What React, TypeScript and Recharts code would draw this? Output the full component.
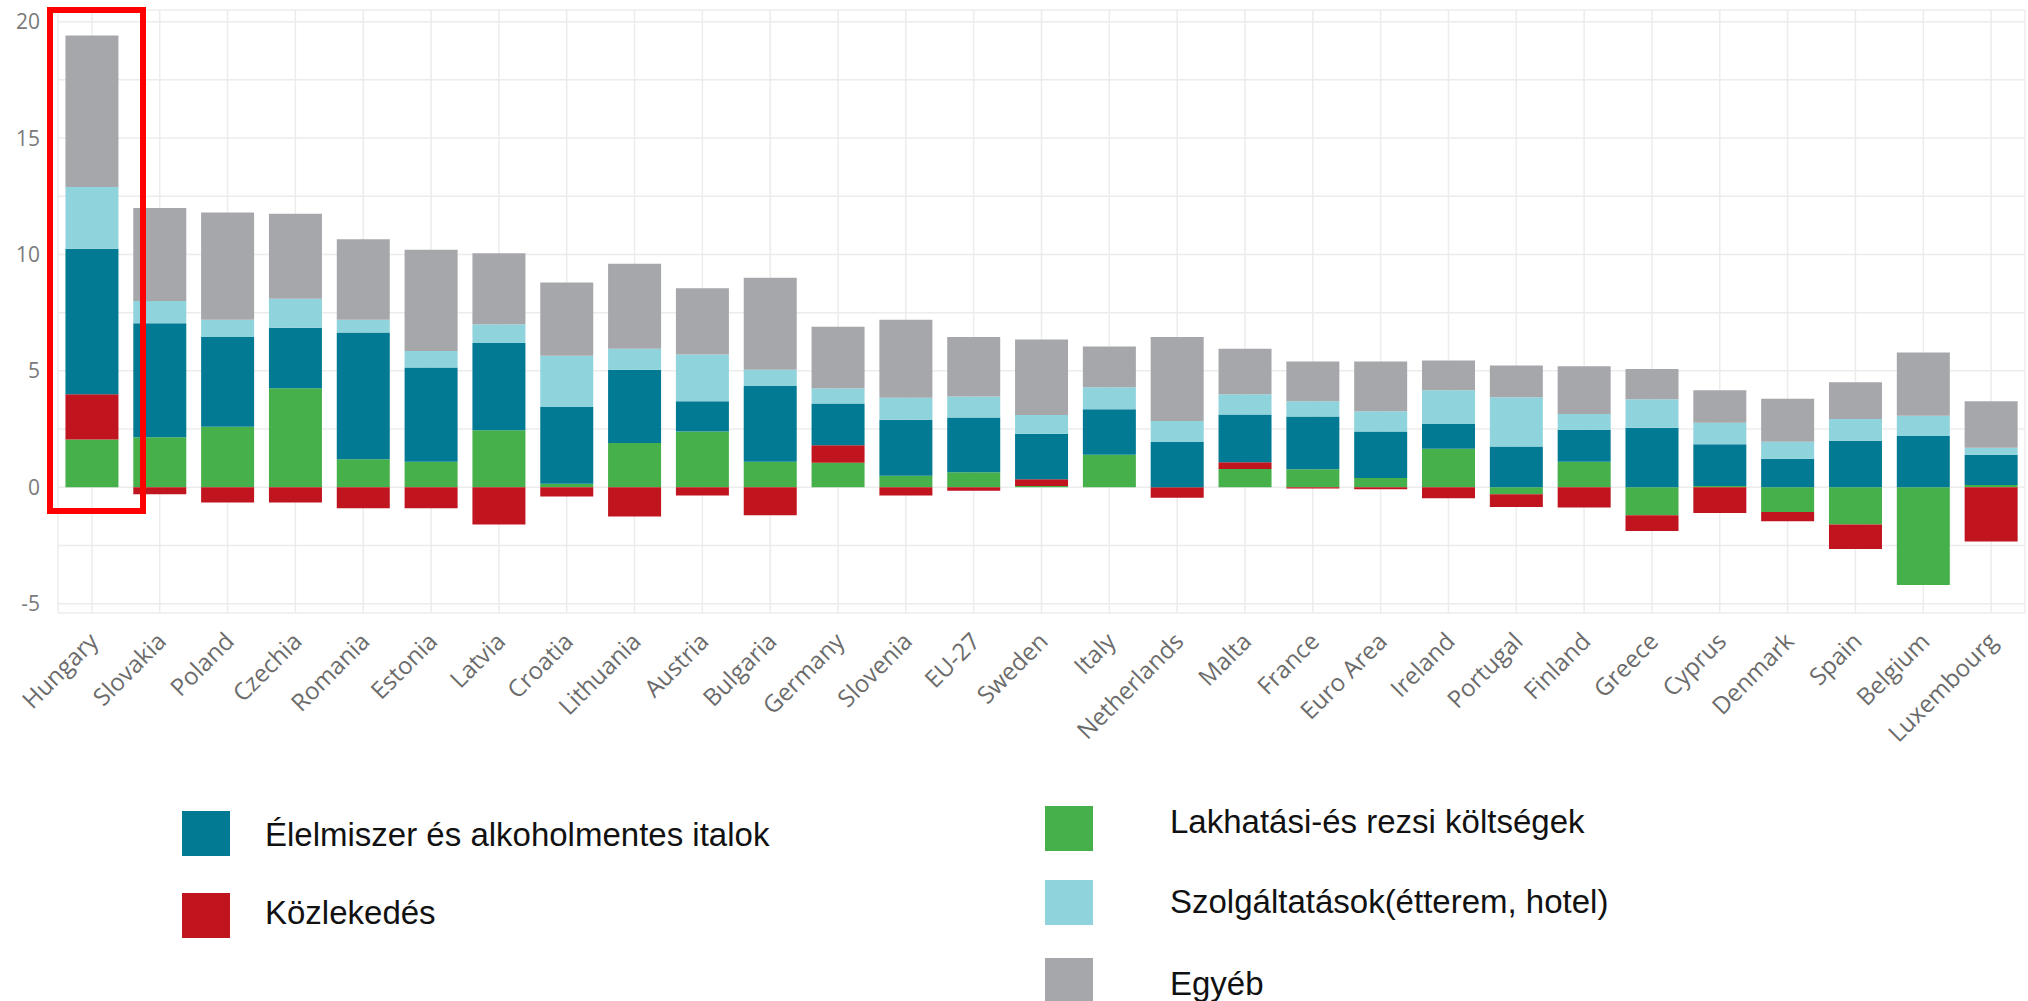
import React from 'react';
import { BarChart, Bar, XAxis, YAxis, CartesianGrid } from 'recharts';

// Countries, sorted as in the source chart
const COUNTRIES = [
  'Hungary', 'Slovakia', 'Poland', 'Czechia', 'Romania', 'Estonia', 'Latvia', 'Croatia',
  'Lithuania', 'Austria', 'Bulgaria', 'Germany', 'Slovenia', 'EU-27', 'Sweden', 'Italy',
  'Netherlands', 'Malta', 'France', 'Euro Area', 'Ireland', 'Portugal', 'Finland', 'Greece',
  'Cyprus', 'Denmark', 'Spain', 'Belgium', 'Luxembourg',
];

// Lakhatási-és rezsi költségek
const HOUSING = [
  2.05, 2.15, 2.6, 4.25, 1.2, 1.1, 2.45, 0.15, 1.9, 2.4, 1.1, 1.05, 0.5, 0.65, 0.05, 1.4,
  0, 0.78, 0.77, 0.4, 1.65, -0.3, 1.1, -1.2, 0.05, -1.06, -1.6, -4.2, 0.1,
];
// Közlekedés
const TRANSPORT = [
  1.95, -0.3, -0.65, -0.65, -0.9, -0.9, -1.6, -0.4, -1.25, -0.35, -1.2, 0.75, -0.35, -0.15, 0.3, 0,
  -0.45, 0.3, -0.05, -0.08, -0.47, -0.55, -0.87, -0.68, -1.1, -0.4, -1.05, 0, -2.33,
];
// Élelmiszer és alkoholmentes italok
const FOOD = [
  6.25, 4.9, 3.85, 2.6, 5.45, 4.05, 3.75, 3.3, 3.15, 1.3, 3.25, 1.8, 2.4, 2.35, 1.95, 1.95,
  1.95, 2.05, 2.27, 2.0, 1.07, 1.75, 1.37, 2.56, 1.8, 1.23, 2.0, 2.2, 1.3,
];
// Szolgáltatások (étterem, hotel)
const SERVICES = [
  2.65, 0.95, 0.75, 1.25, 0.55, 0.7, 0.8, 2.2, 0.9, 2.0, 0.7, 0.65, 0.95, 0.9, 0.8, 0.95,
  0.9, 0.87, 0.66, 0.87, 1.45, 2.12, 0.68, 1.22, 0.92, 0.73, 0.93, 0.87, 0.3,
];
// Egyéb
const OTHER = [
  6.5, 4.0, 4.6, 3.65, 3.45, 4.35, 3.05, 3.15, 3.65, 2.85, 3.95, 2.65, 3.35, 2.55, 3.25, 1.75,
  3.6, 1.95, 1.7, 2.13, 1.27, 1.36, 2.05, 1.3, 1.4, 1.84, 1.58, 2.72, 2.0,
];

const Y_TICKS = [-5, -2.5, 0, 2.5, 5, 7.5, 10, 12.5, 15, 17.5, 20];

const COLORS = {
  food: '#037a94',
  transport: '#c0141f',
  housing: '#46b04a',
  services: '#8fd3dc',
  other: '#a6a7ab',
};

const data = COUNTRIES.map((country, i) => ({
  country,
  housing: HOUSING[i],
  transport: TRANSPORT[i],
  food: FOOD[i],
  services: SERVICES[i],
  other: OTHER[i],
}));

const CountryTick = (props: any) => {
  const { x, y, payload } = props;
  return (
    <g transform={`translate(${x + 2},${y + 24})`}>
      <text
        transform="rotate(-45)"
        textAnchor="end"
        dy="0.35em"
        fill="#6b6b6b"
        fontSize={24}
        fontFamily="'Open Sans', sans-serif"
      >
        {payload.value}
      </text>
    </g>
  );
};

const legendLeft = [
  { label: 'Élelmiszer és alkoholmentes italok', color: COLORS.food, sq: 811, text: 835 },
  { label: 'Közlekedés', color: COLORS.transport, sq: 893, text: 913 },
];
const legendRight = [
  { label: 'Lakhatási-és rezsi költségek', color: COLORS.housing, sq: 806, text: 822 },
  { label: 'Szolgáltatások(étterem, hotel)', color: COLORS.services, sq: 880, text: 902 },
  { label: 'Egyéb', color: COLORS.other, sq: 958, text: 984 },
];

const LegendItem = ({ item, sqX, textX }: any) => (
  <>
    <div
      style={{
        position: 'absolute',
        left: sqX,
        top: item.sq,
        width: 48,
        height: 45,
        background: item.color,
      }}
    />
    <div
      style={{
        position: 'absolute',
        left: textX,
        top: item.text - 17,
        height: 34,
        lineHeight: '34px',
        fontSize: 33,
        color: '#111',
        whiteSpace: 'nowrap',
      }}
    >
      {item.label}
    </div>
  </>
);

export default function App() {
  return (
    <div
      style={{
        position: 'absolute',
        left: 0,
        top: 0,
        width: 2028,
        height: 1001,
        background: '#fff',
        overflow: 'hidden',
        fontFamily: "'Liberation Sans', Arial, sans-serif",
      }}
    >
      <BarChart
        width={2028}
        height={763}
        data={data}
        stackOffset="sign"
        barCategoryGap="11%"
        margin={{ top: 10, right: 3, left: 0, bottom: 0 }}
      >
        <CartesianGrid stroke="#ececec" strokeWidth={1.5} />
        <XAxis
          dataKey="country"
          interval={0}
          height={150}
          axisLine={false}
          tickLine={false}
          tickSize={0}
          tickMargin={0}
          tick={<CountryTick />}
        />
        <YAxis
          type="number"
          width={58}
          domain={[-5.4, 20.5]}
          ticks={Y_TICKS}
          tickFormatter={(v: number) => (v % 5 === 0 ? String(v) : '')}
          axisLine={false}
          tickLine={false}
          tickMargin={12}
          tick={{ fontSize: 21, fill: '#7a7a7a', fontFamily: "'Open Sans', sans-serif" }}
        />
        <Bar dataKey="housing" stackId="a" fill={COLORS.housing} isAnimationActive={false} />
        <Bar dataKey="transport" stackId="a" fill={COLORS.transport} isAnimationActive={false} />
        <Bar dataKey="food" stackId="a" fill={COLORS.food} isAnimationActive={false} />
        <Bar dataKey="services" stackId="a" fill={COLORS.services} isAnimationActive={false} />
        <Bar dataKey="other" stackId="a" fill={COLORS.other} isAnimationActive={false} />
      </BarChart>

      {/* highlight box around Hungary */}
      <div
        style={{
          position: 'absolute',
          left: 47,
          top: 7,
          width: 99,
          height: 507,
          border: '6px solid #ff0000',
          boxSizing: 'border-box',
        }}
      />

      {legendLeft.map((item) => (
        <LegendItem key={item.label} item={item} sqX={182} textX={265} />
      ))}
      {legendRight.map((item) => (
        <LegendItem key={item.label} item={item} sqX={1045} textX={1170} />
      ))}
    </div>
  );
}
